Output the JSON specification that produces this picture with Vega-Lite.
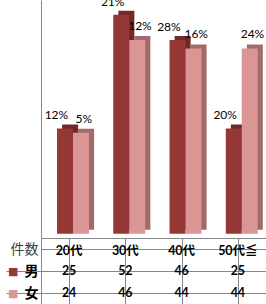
{
  "$schema": "https://vega.github.io/schema/vega-lite/v6.json",
  "padding": {"left": 5, "top": 0, "right": 0, "bottom": 0},
  "spacing": 0,
  "bounds": "flush",
  "data": {
    "values": [
      {"cat": "20代", "gender": "男", "count": 25, "pct": "12%"},
      {"cat": "20代", "gender": "女", "count": 24, "pct": "5%"},
      {"cat": "30代", "gender": "男", "count": 52, "pct": "21%"},
      {"cat": "30代", "gender": "女", "count": 46, "pct": "12%"},
      {"cat": "40代", "gender": "男", "count": 46, "pct": "28%"},
      {"cat": "40代", "gender": "女", "count": 44, "pct": "16%"},
      {"cat": "50代≦", "gender": "男", "count": 25, "pct": "20%"},
      {"cat": "50代≦", "gender": "女", "count": 44, "pct": "24%"}
    ]
  },
  "vconcat": [
    {
      "width": 225,
      "height": 238,
      "view": {"stroke": null},
      "resolve": {"scale": {"y": "independent", "xOffset": "independent"}},
      "layer": [
        {
          "mark": {"type": "bar"},
          "encoding": {
            "x": {"field": "cat", "type": "nominal", "sort": null, "scale": {"domain": ["20代", "30代", "40代", "50代≦"], "paddingInner": 0, "paddingOuter": 0}, "axis": null},
            "xOffset": {"field": "gender", "type": "nominal", "sort": null, "scale": {"domain": ["男", "女"], "paddingInner": 0, "paddingOuter": 0.76, "align": 0.87}},
            "y": {"field": "count", "type": "quantitative", "scale": {"domain": [-1.95, 54.55], "nice": false, "zero": false}, "axis": null},
            "color": {"condition": {"test": "datum.gender === '男'", "value": "#722826"}, "value": "#a26a69"}
          }
        },
        {
          "mark": {"type": "bar"},
          "encoding": {
            "x": {"field": "cat", "type": "nominal", "sort": null, "scale": {"domain": ["20代", "30代", "40代", "50代≦"], "paddingInner": 0, "paddingOuter": 0}, "axis": null},
            "xOffset": {"field": "gender", "type": "nominal", "sort": null, "scale": {"domain": ["男", "女"], "paddingInner": 0, "paddingOuter": 0.76, "align": 0.66}},
            "y": {"field": "count", "type": "quantitative", "scale": {"domain": [-1, 55.5], "nice": false, "zero": false}, "axis": {"orient": "left", "domain": true, "domainColor": "#868686", "ticks": false, "labels": false, "grid": false, "title": null}},
            "color": {"condition": {"test": "datum.gender === '男'", "value": "#953735"}, "value": "#D99694"}
          }
        },
        {
          "transform": [{"filter": "datum.gender === '男'"}],
          "mark": {"type": "text", "dx": -7, "dy": -13, "clip": true, "fontSize": 12, "font": "Lato", "color": "#000000"},
          "encoding": {
            "x": {"field": "cat", "type": "nominal", "sort": null, "scale": {"domain": ["20代", "30代", "40代", "50代≦"], "paddingInner": 0, "paddingOuter": 0}, "axis": null},
            "xOffset": {"field": "gender", "type": "nominal", "sort": null, "scale": {"domain": ["男", "女"], "paddingInner": 0, "paddingOuter": 0.76, "align": 0.66}},
            "y": {"field": "count", "type": "quantitative", "scale": {"domain": [-1, 55.5], "nice": false, "zero": false}, "axis": null},
            "text": {"field": "pct"}
          }
        },
        {
          "transform": [{"filter": "datum.gender === '女'"}],
          "mark": {"type": "text", "dx": -2, "dy": -14, "fontSize": 12, "font": "Lato", "color": "#000000"},
          "encoding": {
            "x": {"field": "cat", "type": "nominal", "sort": null, "scale": {"domain": ["20代", "30代", "40代", "50代≦"], "paddingInner": 0, "paddingOuter": 0}, "axis": null},
            "xOffset": {"field": "gender", "type": "nominal", "sort": null, "scale": {"domain": ["男", "女"], "paddingInner": 0, "paddingOuter": 0.76, "align": 0.66}},
            "y": {"field": "count", "type": "quantitative", "scale": {"domain": [-1, 55.5], "nice": false, "zero": false}, "axis": null},
            "text": {"field": "pct"}
          }
        }
      ]
    },
    {
      "width": 225,
      "height": 66,
      "view": {"stroke": "#868686"},
      "resolve": {"axis": {"y": "independent"}},
      "layer": [
        {
          "transform": [{"filter": "datum.gender === '男'"}],
          "mark": {"type": "text", "font": "Lato, Noto Sans CJK JP", "fontWeight": "bold", "fontSize": 12.5, "dy": 2, "color": "#000000"},
          "encoding": {
            "x": {"field": "cat", "type": "nominal", "sort": null, "scale": {"domain": ["20代", "30代", "40代", "50代≦"], "paddingInner": 0, "paddingOuter": 0}, "axis": {"orient": "top", "grid": true, "bandPosition": 0, "gridColor": "#868686", "gridOpacity": 1, "labels": false, "ticks": false, "domain": false, "title": null}},
            "y": {"datum": "件数", "type": "nominal", "scale": {"domain": ["件数", "男", "女"], "paddingInner": 0, "paddingOuter": 0}, "axis": {"orient": "left", "title": null, "domain": false, "grid": true, "gridColor": "#868686", "gridOpacity": 1, "bandPosition": 0, "ticks": true, "tickSize": 35, "tickColor": "#868686", "tickOpacity": {"condition": {"test": "datum.value === '件数'", "value": 0}, "value": 1}, "labelPadding": -32, "labelFont": "Noto Sans CJK JP", "labelFontSize": 14, "labelFontWeight": {"condition": {"test": "datum.value === '件数'", "value": "normal"}, "value": "bold"}, "labelColor": {"condition": {"test": "datum.value === '件数'", "value": "#404040"}, "value": "#000000"}}},
            "text": {"field": "cat"}
          }
        },
        {
          "mark": {"type": "text", "font": "Lato", "fontWeight": "bold", "fontSize": 12.5, "color": "#000000"},
          "encoding": {
            "x": {"field": "cat", "type": "nominal", "sort": null, "scale": {"domain": ["20代", "30代", "40代", "50代≦"], "paddingInner": 0, "paddingOuter": 0}, "axis": {"orient": "top", "grid": true, "bandPosition": 0, "gridColor": "#868686", "gridOpacity": 1, "labels": false, "ticks": false, "domain": false, "title": null}},
            "y": {"field": "gender", "type": "nominal", "scale": {"domain": ["件数", "男", "女"], "paddingInner": 0, "paddingOuter": 0}, "axis": {"orient": "left", "title": null, "domain": false, "grid": false, "ticks": false, "labelExpr": "datum.value === '件数' ? '' : '■'", "labelPadding": 23, "labelFont": "DejaVu Sans", "labelFontSize": 11, "labelColor": {"condition": {"test": "datum.value === '男'", "value": "#953735"}, "value": "#D99694"}}},
            "text": {"field": "count"}
          }
        }
      ]
    }
  ]
}
